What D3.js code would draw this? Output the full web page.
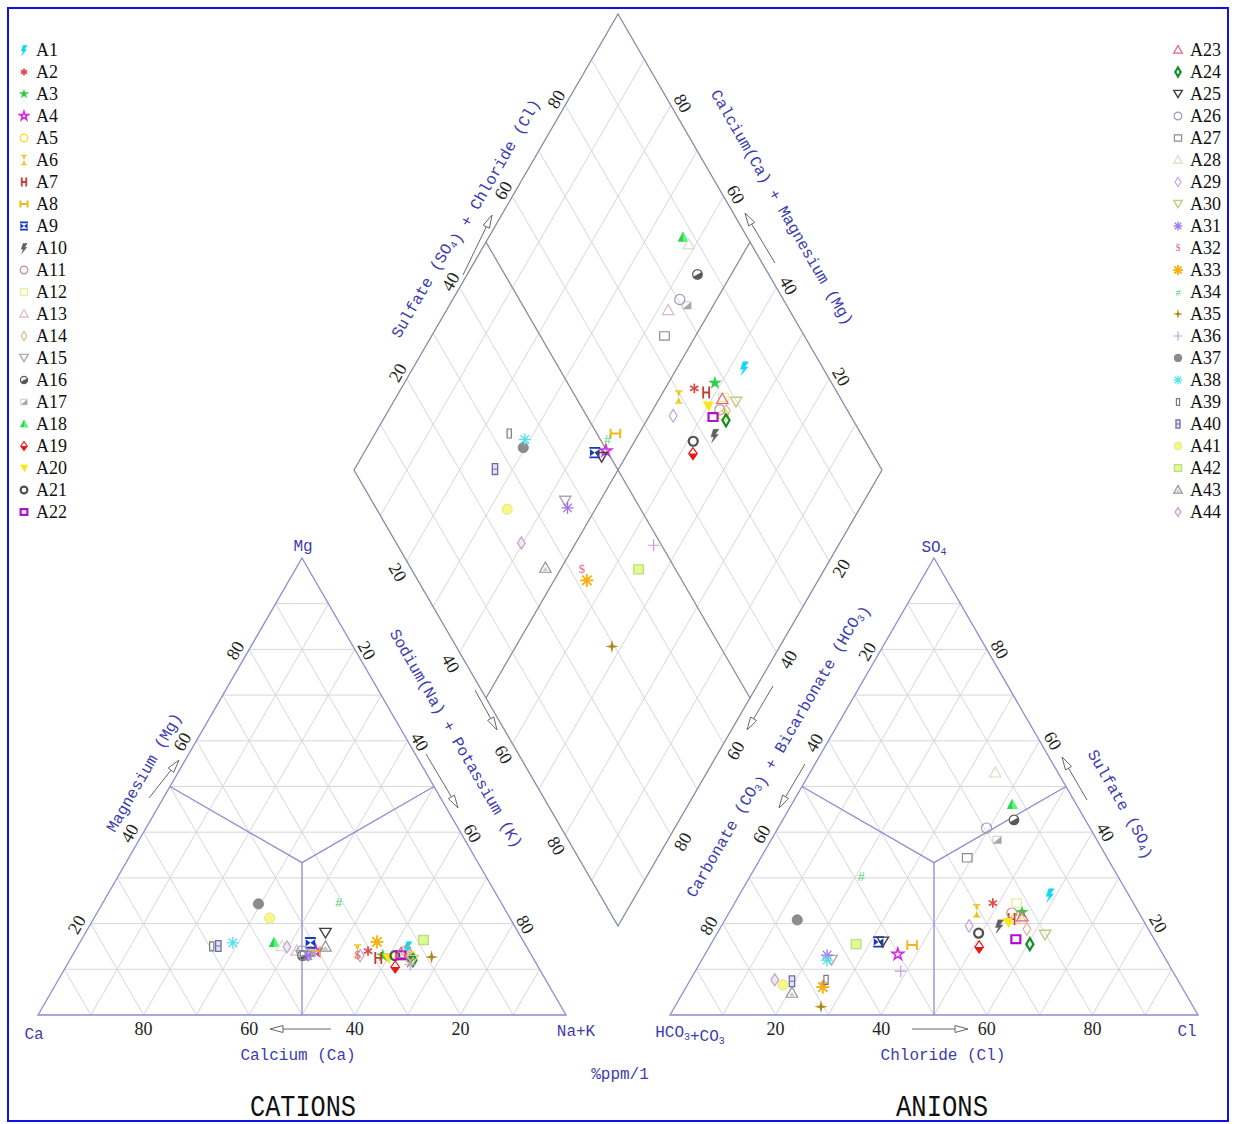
<!DOCTYPE html>
<html>
<head>
<meta charset="utf-8">
<script src="https://cdn.jsdelivr.net/npm/d3@7"></script>
<style>
  body { margin: 0; background: #fff; }
  svg { display: block; }
</style>
</head>
<body>
<svg id="chart" width="1234" height="1124"></svg>
<script>
// ---- sample data (percent of total meq) ----
const sampleIds = ["A1","A2","A3","A4","A5","A6","A7","A8","A9","A10","A11","A12","A13","A14","A15","A16","A17","A18","A19","A20","A21","A22",
                   "A23","A24","A25","A26","A27","A28","A29","A30","A31","A32","A33","A34","A35","A36","A37","A38","A39","A40","A41","A42","A43","A44"];
// cations
const naK = [62.7,55.5,58.8,45.6,64.0,53.5,58.2,45.5,43.7,64.5,62.7,62.0,42.0,64.0,43.4,43.6,45.0,36.8,62.4,60.0,61.1,62.2,
             62.0,65.0,45.5,43.0,44.1,38.7,54.5,64.9,44.6,54.0,56.2,44.7,68.2,65.0,29.6,29.0,25.4,26.6,33.3,64.8,47.0,39.7];
const mg  = [14.7,14.0,13.0,14.0,13.0,14.0,12.5,14.0,15.8,12.0,14.0,13.0,14.0,12.5,13.0,13.0,13.5,15.8,10.5,12.5,13.0,13.1,
             13.5,12.0,17.9,14.0,13.0,15.0,13.0,12.0,13.0,13.1,16.0,24.5,12.7,11.0,24.3,15.8,15.0,15.1,21.2,16.4,14.9,14.9];
// anions
const so4 = [26.3,24.5,22.5,13.3,21.0,22.8,21.0,15.3,16.0,19.5,22.3,24.5,21.0,18.8,12.0,42.7,38.3,46.0,14.9,20.3,17.9,16.6,
             21.5,15.5,16.0,40.9,34.4,53.0,19.5,17.5,13.1,6.6,6.1,30.2,1.8,9.6,20.8,12.0,7.7,7.4,6.6,15.5,4.8,7.7];
const cl  = [58.8,48.9,55.4,36.5,55.0,46.7,54.2,38.2,31.5,52.6,53.6,53.4,56.0,58.2,24.6,43.8,42.8,41.8,51.1,53.8,49.5,57.2,
             56.0,60.4,32.3,39.5,39.1,35.1,46.9,62.3,23.2,25.7,25.9,21.1,27.7,38.9,13.7,23.7,25.7,19.4,18.1,27.5,20.7,16.0];

const markerShapes = ["bolt","asterisk","starFill","starOpen","circle","hourglass","hLetter","hWide","bowtie","bolt2","circle","square",
                      "triangle","diamond","triDown","halfCircle","halfSquare","triFill","drop","triDownFill","circleBold","squareBold",
                      "triangle","diamondBold","triDown","circle","square","triangle","diamond","triDown","asterisk8","dollar","sun",
                      "hash","sparkle","plus","circleFill","asterisk8","rectTall","rect8","circleFill","squareSoft","triInner","diamondSoft"];
const markerColors = ["#16d6f0","#e04848","#2fcf4a","#d030d8","#f4e02a","#e6c820","#c83a30","#f0b820","#1838c0","#606060","#c89090","#e8ec90",
                      "#d8bcc8","#d8b890","#a8a8b8","#585858","#a8a8a8","#38cc58","#e81818","#f8e818","#505050","#b010d0",
                      "#e86080","#109028","#404040","#9c9cb8","#8c8c8c","#dcdcc8","#c8a0e0","#c8c880","#a070ee","#e06888","#f8b010",
                      "#48d070","#b08818","#c8a0e0","#8c8c8c","#50e0ee","#787878","#6c6cb0","#f8f888","#c0dc80","#909098","#c8a8cc"];

const tickValues = [20, 40, 60, 80];
const gridValues = d3.range(10, 100, 10);

// ---- geometry ----
const svg = d3.select("#chart");
const triY = d3.scaleLinear().domain([0, 100]).range([1015, 558]);           // height fraction of both triangles
const catX = d3.scaleLinear().domain([0, 100]).range([38, 566]);             // cation base: Ca vertex -> Na+K vertex
const anX  = d3.scaleLinear().domain([0, 100]).range([670, 1198]);           // anion base: HCO3 vertex -> Cl vertex
const diaX = d3.scaleLinear().domain([0, 200]).range([354, 882]);            // diamond: (Na+K) + (SO4+Cl)
const diaY = d3.scaleLinear().domain([-100, 100]).range([14, 926]);          // diamond: (Na+K) - (SO4+Cl)

const catXY = (na, m) => [catX(na + m / 2), triY(m)];
const anXY  = (c, s) => [anX(c + s / 2), triY(s)];
const diaXY = (n, s) => [diaX(n + s), diaY(n - s)];

const BLUE = "#3c3cb0";
const EDGE = "#8c8cd0";
const GRID = "#d6d6de";

const line = d3.line();

// frame
svg.append("rect").attr("x", 8).attr("y", 8).attr("width", 1220).attr("height", 1113)
   .attr("fill", "#fff").attr("stroke", "#1010e8").attr("stroke-width", 2);

const gGrid = svg.append("g").attr("fill", "none").attr("stroke", GRID).attr("stroke-width", 1);

// triangle grid
function triGrid(toXY) {
  gridValues.forEach(k => {
    gGrid.append("path").attr("d", line([toXY(0, k), toXY(100 - k, k)]));
    gGrid.append("path").attr("d", line([toXY(k, 0), toXY(k, 100 - k)]));
    gGrid.append("path").attr("d", line([toXY(100 - k, 0), toXY(0, 100 - k)]));
  });
}
triGrid(catXY);
triGrid(anXY);
// diamond grid
gridValues.forEach(k => {
  gGrid.append("path").attr("d", line([diaXY(k, 0), diaXY(k, 100)]));
  gGrid.append("path").attr("d", line([diaXY(0, k), diaXY(100, k)]));
});

// triangle outlines and field boundaries
const gEdge = svg.append("g").attr("fill", "none").attr("stroke", EDGE).attr("stroke-width", 1.3);
[catXY, anXY].forEach(f => {
  gEdge.append("path").attr("d", line([f(0, 0), f(100, 0), f(0, 100)]) + "Z");
  const c = f(33.333, 33.333);
  gEdge.append("path").attr("d", line([f(0, 50), c]));
  gEdge.append("path").attr("d", line([f(50, 50), c]));
  gEdge.append("path").attr("d", line([f(50, 0), c]));
});
// diamond outline and centre lines
svg.append("path").attr("d", line([diaXY(0, 0), diaXY(0, 100), diaXY(100, 100), diaXY(100, 0)]) + "Z")
   .attr("fill", "none").attr("stroke", "#8888a8").attr("stroke-width", 1.3);
svg.append("path").attr("d", line([diaXY(0, 50), diaXY(100, 50)]))
   .attr("fill", "none").attr("stroke", "#8a8a9a").attr("stroke-width", 1.2);
svg.append("path").attr("d", line([diaXY(50, 0), diaXY(50, 100)]))
   .attr("fill", "none").attr("stroke", "#8a8a9a").attr("stroke-width", 1.2);

// ---- tick labels ----
const gTicks = svg.append("g").attr("font-family", "'Liberation Serif', 'Times New Roman', serif")
   .attr("font-size", 18).attr("fill", "#222").attr("text-anchor", "middle").attr("dominant-baseline", "central");
function tick(p, dx, dy, rot, txt) {
  const x = p[0] + dx, y = p[1] + dy;
  gTicks.append("text").attr("transform", `translate(${x},${y}) rotate(${rot})`).text(txt);
}
tickValues.forEach(v => {
  // cation triangle
  tick(catXY(100 - v, 0), 0, 14, 0, v);             // Ca along base
  tick(catXY(0, v), -14, 1, -60, v);                // Mg on left side
  tick(catXY(v, 100 - v), 12, 1, 60, v);            // Na+K on right side
  // anion triangle
  tick(anXY(v, 0), 0, 14, 0, v);                    // Cl along base
  tick(anXY(0, 100 - v), -14, 2, -60, v);           // HCO3+CO3 on left side
  tick(anXY(100 - v, v), 13, 0, 60, v);             // SO4 on right side
  // diamond
  tick(diaXY(0, v), -9, -6, -60, v);                // SO4+Cl upper left
  tick(diaXY(100 - v, 100), 12, -2, 60, v);         // Ca+Mg upper right
  tick(diaXY(v, 0), -9, 11, 60, v);                 // Na+K lower left
  tick(diaXY(100, 100 - v), 12, 7, -60, v);         // HCO3+CO3 lower right
});

// ---- axis titles ----
const gTitle = svg.append("g").attr("font-family", "'Liberation Mono', 'Courier New', monospace")
   .attr("font-size", 16).attr("fill", BLUE).attr("text-anchor", "middle").attr("dominant-baseline", "central");
function title(x, y, rot, parts) {
  const t = gTitle.append("text").attr("transform", `translate(${x},${y}) rotate(${rot})`);
  parts.forEach(p => {
    if (typeof p === "string") t.append("tspan").text(p);
    else {
      t.append("tspan").attr("font-size", 10).attr("dy", 4).text(p.sub);
      t.append("tspan").attr("dy", -4).text("");
    }
  });
}
title(298, 1056, 0, ["Calcium (Ca)"]);
title(943, 1056, 0, ["Chloride (Cl)"]);
title(620, 1075, 0, ["%ppm/1"]);
title(145, 773, -60, ["Magnesium (Mg)"]);
title(455, 739, 60, ["Sodium(Na) + Potassium (K)"]);
title(465, 218, -60, ["Sulfate (SO", {sub: "4"}, ") + Chloride (Cl)"]);
title(781, 208, 60, ["Calcium(Ca) + Magnesium (Mg)"]);
title(776, 750, -60, ["Carbonate (CO", {sub: "3"}, ") + Bicarbonate (HCO", {sub: "3"}, ")"]);
title(1121, 804, 60, ["Sulfate (SO", {sub: "4"}, ")"]);

// vertex names
title(34, 1035, 0, ["Ca"]);
title(576, 1032, 0, ["Na+K"]);
title(303, 547, 0, ["Mg"]);
title(934, 548, 0, ["SO", {sub: "4"}]);
title(690, 1033, 0, ["HCO", {sub: "3"}, "+CO", {sub: "3"}]);
title(1187, 1032, 0, ["Cl"]);

// panel names
[["CATIONS", 303, 106], ["ANIONS", 942, 92]].forEach(([txt, x, len]) => {
  svg.append("text").attr("x", x).attr("y", 1116).attr("text-anchor", "middle")
     .attr("font-family", "'Liberation Mono', 'Courier New', monospace")
     .attr("font-size", 30).attr("textLength", len).attr("lengthAdjust", "spacingAndGlyphs")
     .attr("fill", "#111").text(txt);
});

// ---- direction arrows ----
const gArrow = svg.append("g").attr("fill", "none").attr("stroke", "#666").attr("stroke-width", 1);
function arrow(a, b) {
  const dx = b[0] - a[0], dy = b[1] - a[1], L = Math.hypot(dx, dy);
  const ux = dx / L, uy = dy / L, hl = 13, hw = 3.5;
  const base = [b[0] - ux * hl, b[1] - uy * hl];
  gArrow.append("path").attr("d", line([a, base]));
  gArrow.append("path").attr("d", line([b, [base[0] - uy * hw, base[1] + ux * hw], [base[0] + uy * hw, base[1] - ux * hw]]) + "Z");
}
arrow([331, 1029], [270, 1029]);
arrow([912, 1029], [968, 1029]);
arrow([149, 798], [179, 760]);
arrow([426, 754], [458, 808]);
arrow([463, 275], [492, 215]);
arrow([775, 263], [745, 213]);
arrow([475, 690], [497, 730]);
arrow([773, 686], [747, 730]);
arrow([805, 764], [779, 808]);
arrow([1087, 800], [1062, 757]);

// ---- markers ----
function drawMarker(g, shape, color, r) {
  const sw = 1.2;
  const p = (d) => g.append("path").attr("d", d);
  switch (shape) {
    case "bolt": case "bolt2":
      p(`M${-0.2*r},${-r} L${0.7*r},${-r} L${0.1*r},${-0.15*r} L${0.6*r},${-0.15*r} L${-0.5*r},${1.2*r} L${-0.1*r},${0.25*r} L${-0.6*r},${0.25*r} Z`)
        .attr("fill", color).attr("stroke", color).attr("stroke-width", 0.6);
      break;
    case "asterisk":
      [0, 60, 120].forEach(a => p(`M0,${-0.8*r} L0,${0.8*r}`).attr("transform", `rotate(${a})`)
        .attr("stroke", color).attr("stroke-width", 1.7));
      break;
    case "asterisk8":
      [0, 45, 90, 135].forEach(a => p(`M0,${-r} L0,${r}`).attr("transform", `rotate(${a})`)
        .attr("stroke", color).attr("stroke-width", 1.3));
      break;
    case "sun":
      [0, 45, 90, 135].forEach(a => p(`M0,${-r*1.1} L0,${r*1.1}`).attr("transform", `rotate(${a})`)
        .attr("stroke", color).attr("stroke-width", 1.8));
      g.append("circle").attr("r", r * 0.45).attr("fill", color);
      break;
    case "starFill":
      p(d3.symbol(d3.symbolStar, r * r * 1.6)()).attr("fill", color);
      break;
    case "starOpen":
      p(d3.symbol(d3.symbolStar, r * r * 1.15)()).attr("fill", "none").attr("stroke", color).attr("stroke-width", 1.6);
      break;
    case "circle":
      g.append("circle").attr("r", r * 0.85).attr("fill", "none").attr("stroke", color).attr("stroke-width", sw);
      break;
    case "circleBold":
      g.append("circle").attr("r", r * 0.75).attr("fill", "none").attr("stroke", color).attr("stroke-width", 2.2);
      break;
    case "circleFill":
      g.append("circle").attr("r", r * 0.85).attr("fill", color).attr("stroke", d3.color(color).darker(0.3)).attr("stroke-width", 0.8);
      break;
    case "halfCircle":
      g.append("circle").attr("r", r * 0.8).attr("fill", "#fff").attr("stroke", color).attr("stroke-width", sw);
      p(`M${-0.8*r},0 A${0.8*r},${0.8*r} 0 0,0 ${0.8*r},0 Z`).attr("fill", color).attr("transform", "rotate(-30)");
      break;
    case "square":
      p(`M${-0.8*r},${-0.7*r}h${1.6*r}v${1.4*r}h${-1.6*r}Z`).attr("fill", "none").attr("stroke", color).attr("stroke-width", sw);
      break;
    case "squareBold":
      p(`M${-0.75*r},${-0.65*r}h${1.5*r}v${1.3*r}h${-1.5*r}Z`).attr("fill", "none").attr("stroke", color).attr("stroke-width", 2.2);
      break;
    case "squareSoft":
      p(`M${-0.8*r},${-0.75*r}h${1.6*r}v${1.5*r}h${-1.6*r}Z`).attr("fill", d3.color(color).brighter(0.4)).attr("stroke", color).attr("stroke-width", 1.4);
      break;
    case "halfSquare":
      p(`M${-0.7*r},${-0.6*r}h${1.4*r}v${1.2*r}h${-1.4*r}Z`).attr("fill", "none").attr("stroke", "#ccc").attr("stroke-width", 1);
      p(`M${0.7*r},${-0.6*r}V${0.6*r}H${-0.7*r}Z`).attr("fill", color);
      break;
    case "triangle":
      p(`M0,${-r} L${0.95*r},${0.7*r} L${-0.95*r},${0.7*r} Z`).attr("fill", "none").attr("stroke", color).attr("stroke-width", sw);
      break;
    case "triInner":
      p(`M0,${-r} L${0.95*r},${0.7*r} L${-0.95*r},${0.7*r} Z`).attr("fill", "none").attr("stroke", color).attr("stroke-width", sw);
      p(`M0,${-0.2*r} L${0.45*r},${0.5*r} L${-0.45*r},${0.5*r} Z`).attr("fill", "#c8c8d0");
      break;
    case "triFill":
      p(`M0,${-r} L${0.9*r},${0.7*r} L${-0.9*r},${0.7*r} Z`).attr("fill", color);
      p(`M0,${-r} L${0.9*r},${0.7*r} L0,${0.7*r} Z`).attr("fill", d3.color(color).brighter(0.8));
      break;
    case "triDown":
      p(`M0,${r*0.8} L${0.95*r},${-0.8*r} L${-0.95*r},${-0.8*r} Z`).attr("fill", "none").attr("stroke", color).attr("stroke-width", sw + 0.2);
      break;
    case "triDownFill":
      p(`M${0.2*r},${r} L${0.9*r},${-0.7*r} L${-0.9*r},${-0.7*r} Z`).attr("fill", color);
      break;
    case "diamond":
      p(`M0,${-r*1.05} L${0.65*r},0 L0,${r*1.05} L${-0.65*r},0 Z`).attr("fill", "none").attr("stroke", color).attr("stroke-width", sw);
      break;
    case "diamondBold":
      p(`M0,${-r} L${0.6*r},0 L0,${r} L${-0.6*r},0 Z`).attr("fill", "none").attr("stroke", color).attr("stroke-width", 2.2);
      break;
    case "diamondSoft":
      p(`M0,${-r} L${0.65*r},0 L0,${r} L${-0.65*r},0 Z`).attr("fill", "#f0e8f4").attr("stroke", color).attr("stroke-width", 1.3);
      break;
    case "drop":
      p(`M0,${-r} L${0.7*r},0 L0,${r} L${-0.7*r},0 Z`).attr("fill", "none").attr("stroke", color).attr("stroke-width", sw);
      p(`M${-0.8*r},0 L${0.8*r},0 L0,${r} Z`).attr("fill", color);
      break;
    case "hourglass":
      p(`M${-0.6*r},${-r} H${0.6*r} M${-0.6*r},${r} H${0.6*r}`).attr("stroke", color).attr("stroke-width", 1.6);
      p(`M${-0.35*r},${-0.85*r} L${0.35*r},${-0.85*r} L0,0 L${0.35*r},${0.85*r} L${-0.35*r},${0.85*r} L0,0 Z`).attr("fill", color);
      break;
    case "hLetter":
      p(`M${-0.5*r},${-r} V${r} M${0.5*r},${-r} V${r} M${-0.5*r},0 H${0.5*r}`).attr("stroke", color).attr("stroke-width", 1.8).attr("fill", "none");
      break;
    case "hWide":
      p(`M${-0.8*r},${-0.8*r} V${0.8*r} M${0.8*r},${-0.8*r} V${0.8*r} M${-0.8*r},0 H${0.8*r}`).attr("stroke", color).attr("stroke-width", 2).attr("fill", "none");
      break;
    case "bowtie":
      p(`M${-0.9*r},${-0.8*r} H${0.9*r} M${-0.9*r},${0.8*r} H${0.9*r}`).attr("stroke", color).attr("stroke-width", 1.8);
      p(`M${-0.8*r},${-0.6*r} L0,0 L${-0.8*r},${0.6*r} Z M${0.8*r},${-0.6*r} L0,0 L${0.8*r},${0.6*r} Z`).attr("fill", color);
      break;
    case "dollar":
      g.append("text").attr("text-anchor", "middle").attr("dominant-baseline", "central").attr("font-size", r * 2.1)
        .attr("font-family", "'Liberation Serif', serif").attr("fill", color).text("$");
      break;
    case "hash":
      g.append("text").attr("text-anchor", "middle").attr("dominant-baseline", "central").attr("font-size", r * 2.1)
        .attr("font-family", "'Liberation Sans', sans-serif").attr("fill", color).text("#");
      break;
    case "sparkle":
      p(`M0,${-1.1*r} L${0.22*r},${-0.22*r} L${1.1*r},0 L${0.22*r},${0.22*r} L0,${1.1*r} L${-0.22*r},${0.22*r} L${-1.1*r},0 L${-0.22*r},${-0.22*r} Z`)
        .attr("fill", color);
      break;
    case "plus":
      p(`M0,${-r} V${r} M${-r},0 H${r}`).attr("stroke", color).attr("stroke-width", 1.2);
      break;
    case "rectTall":
      p(`M${-0.35*r},${-0.75*r}h${0.7*r}v${1.5*r}h${-0.7*r}Z`).attr("fill", "none").attr("stroke", color).attr("stroke-width", 1.2);
      break;
    case "rect8":
      p(`M${-0.45*r},${-0.9*r}h${0.9*r}v${1.8*r}h${-0.9*r}Z`).attr("fill", "#e4e4f0").attr("stroke", color).attr("stroke-width", 1.3);
      p(`M${-0.45*r},0 H${0.45*r}`).attr("stroke", color).attr("stroke-width", 1);
      break;
  }
}

// three plotted positions per sample
const points = sampleIds.map((id, i) => ({
  id, shape: markerShapes[i], color: markerColors[i],
  cat: catXY(naK[i], mg[i]),
  an: anXY(cl[i], so4[i]),
  dia: diaXY(naK[i], so4[i] + cl[i])
}));

const gPts = svg.append("g");
points.forEach(d => {
  [d.cat, d.an, d.dia].forEach(p => {
    const g = gPts.append("g").attr("transform", `translate(${p[0]},${p[1]})`);
    drawMarker(g, d.shape, d.color, 6);
  });
});

// ---- legend ----
const gLeg = svg.append("g");
points.forEach((d, i) => {
  const col = i < 22 ? 0 : 1;
  const row = i % 22;
  const mx = col === 0 ? 24 : 1178, y = 50 + row * 22;
  const g = gLeg.append("g").attr("transform", `translate(${mx},${y})`);
  drawMarker(g, d.shape, d.color, 4.5);
  gLeg.append("text").attr("x", mx + 12).attr("y", y).attr("dominant-baseline", "central")
     .attr("font-family", "'Liberation Serif', 'Times New Roman', serif").attr("font-size", 18).attr("fill", "#111").text(d.id);
});
</script>
</body>
</html>
